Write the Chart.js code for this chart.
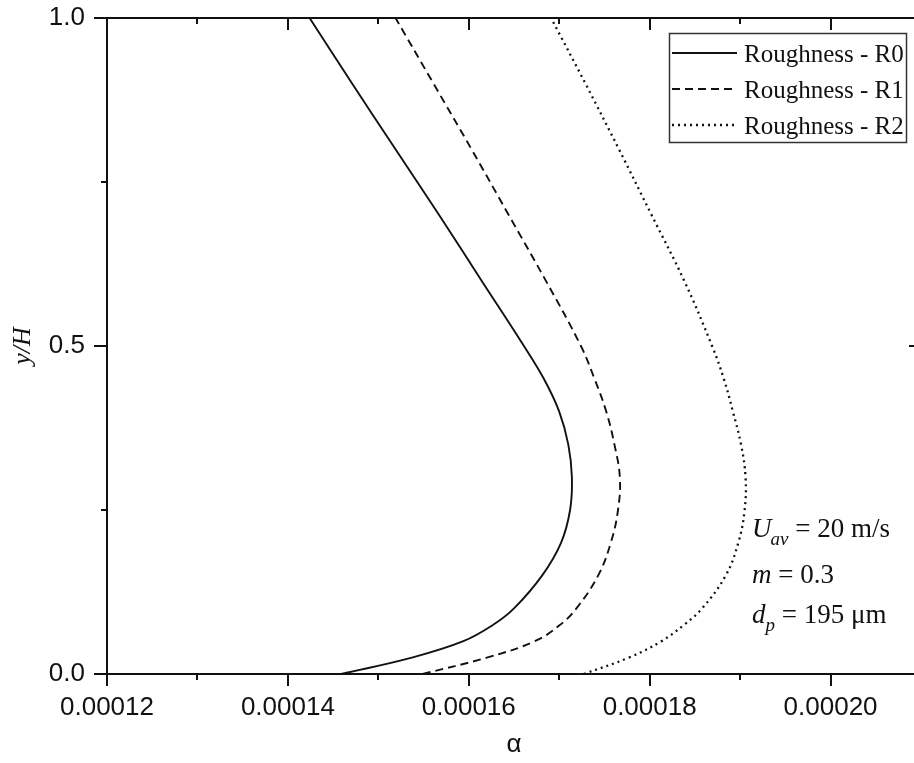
<!DOCTYPE html>
<html>
<head>
<meta charset="utf-8">
<script src="https://cdn.jsdelivr.net/npm/chart.js@4/dist/chart.umd.min.js"></script>
<style>
  html, body { margin: 0; padding: 0; background: #fff; overflow: hidden; }
  #wrap { width: 930px; height: 763px; }
</style>
</head>
<body>
<div id="wrap"><canvas id="myChart" width="930" height="763"></canvas></div>
<script>
const yLevels = [0, 0.025, 0.05, 0.075, 0.1, 0.15, 0.2, 0.25, 0.3, 0.35, 0.4, 0.45, 0.5, 0.6, 0.7, 0.8, 0.9, 1.0];

// alpha values for each roughness
const alphaR0 = [0.0001459, 0.0001537, 0.0001594, 0.0001627, 0.000165, 0.0001681, 0.0001702, 0.0001712, 0.0001714, 0.000171,
                 0.00017, 0.0001683, 0.0001661, 0.0001614, 0.0001567, 0.0001519, 0.0001471, 0.0001424];
const alphaR1 = [0.0001549, 0.000162, 0.0001673, 0.0001701, 0.0001719, 0.0001743, 0.0001757, 0.0001765, 0.0001767, 0.0001761,
                 0.0001752, 0.0001739, 0.0001724, 0.0001685, 0.0001644, 0.0001603, 0.0001561, 0.0001519];
const alphaR2 = [0.0001727, 0.0001777, 0.0001813, 0.0001838, 0.0001858, 0.0001884, 0.0001898, 0.0001905, 0.0001906, 0.0001901,
                 0.0001892, 0.0001882, 0.0001869, 0.0001838, 0.0001802, 0.0001766, 0.0001729, 0.0001691];

const seriesNames = ['Roughness - R0', 'Roughness - R1', 'Roughness - R2'];

// tick values
const xTicks = [0.00012, 0.00014, 0.00016, 0.00018, 0.00020];
const xMinorTicks = [0.00013, 0.00015, 0.00017, 0.00019];
const yTicks = [0.0, 0.5, 1.0];
const yMinorTicks = [0.25, 0.75];

function toPoints(alphas) {
    return yLevels.map((y, i) => ({ x: alphas[i], y: y }));
}

// Bordas, marcas de escala, legenda e anotações
const framePlugin = {
    id: 'frame',
    afterDraw(chart) {
        const ctx = chart.ctx;
        const a = chart.chartArea;
        const xs = chart.scales.x;
        const ys = chart.scales.y;
        ctx.save();
        ctx.strokeStyle = '#111';
        ctx.lineWidth = 2;
        ctx.setLineDash([]);

        // box
        ctx.strokeRect(a.left, a.top, a.right - a.left, a.bottom - a.top);

        ctx.beginPath();
        xTicks.forEach(v => {
            const px = Math.round(xs.getPixelForValue(v));
            ctx.moveTo(px, a.bottom); ctx.lineTo(px, a.bottom + 12);
            ctx.moveTo(px, a.top); ctx.lineTo(px, a.top + 12);
        });
        xMinorTicks.forEach(v => {
            const px = Math.round(xs.getPixelForValue(v));
            ctx.moveTo(px, a.bottom); ctx.lineTo(px, a.bottom + 6);
            ctx.moveTo(px, a.top); ctx.lineTo(px, a.top + 6);
        });
        yTicks.forEach(v => {
            const py = Math.round(ys.getPixelForValue(v));
            ctx.moveTo(a.left, py); ctx.lineTo(a.left - 13, py);
            ctx.moveTo(a.right, py); ctx.lineTo(a.right - 12, py);
        });
        yMinorTicks.forEach(v => {
            const py = Math.round(ys.getPixelForValue(v));
            ctx.moveTo(a.left, py); ctx.lineTo(a.left - 6, py);
            ctx.moveTo(a.right, py); ctx.lineTo(a.right - 6, py);
        });
        ctx.stroke();

        // legend
        ctx.lineWidth = 1.5;
        ctx.strokeStyle = '#333';
        ctx.strokeRect(669.5, 33.5, 237, 109);
        ctx.font = '25px "Liberation Serif", "Times New Roman", serif';
        ctx.fillStyle = '#111';
        ctx.textBaseline = 'alphabetic';
        chart.data.datasets.forEach((ds, i) => {
            const y = 53 + 36 * i;
            ctx.strokeStyle = ds.borderColor;
            ctx.lineWidth = ds.borderWidth;
            ctx.setLineDash(ds.borderDash || []);
            ctx.beginPath();
            ctx.moveTo(672, y); ctx.lineTo(737, y);
            ctx.stroke();
            ctx.fillText(ds.label, 744, 62 + 36 * i);
        });
        ctx.setLineDash([]);

        // parameters
        const it = 'italic 27px "Liberation Serif", "Times New Roman", serif';
        const rg = '27px "Liberation Serif", "Times New Roman", serif';
        const sub = 'italic 19px "Liberation Serif", "Times New Roman", serif';
        let x = 752;
        ctx.font = it; ctx.fillText('U', x, 537); x += ctx.measureText('U').width;
        ctx.font = sub; ctx.fillText('av', x - 1, 545); x += ctx.measureText('av').width - 1;
        ctx.font = rg; ctx.fillText(' = 20 m/s', x, 537);

        x = 752;
        ctx.font = it; ctx.fillText('m', x, 583); x += ctx.measureText('m').width;
        ctx.font = rg; ctx.fillText(' = 0.3', x, 583);

        x = 752;
        ctx.font = it; ctx.fillText('d', x, 623); x += ctx.measureText('d').width;
        ctx.font = sub; ctx.fillText('p', x, 631); x += ctx.measureText('p').width;
        ctx.font = rg; ctx.fillText(' = 195 \u03bcm', x, 623);
        ctx.restore();
    }
};

const tickFont = { family: '"Liberation Sans", Arial, sans-serif', size: 26 };

var ctx = document.getElementById('myChart').getContext('2d');
var chart = new Chart(ctx, {
    type: 'line',
    data: {
        datasets: [
            { label: seriesNames[0], data: toPoints(alphaR0), borderDash: [], borderWidth: 1.9 },
            { label: seriesNames[1], data: toPoints(alphaR1), borderDash: [8, 5], borderWidth: 1.9 },
            { label: seriesNames[2], data: toPoints(alphaR2), borderDash: [2, 4], borderWidth: 2.3 }
        ].map(ds => Object.assign(ds, {
            borderColor: '#111',
            pointRadius: 0,
            tension: 0.4,
            fill: false
        }))
    },
    options: {
        indexAxis: 'y',
        responsive: false,
        animation: false,
        devicePixelRatio: 1,
        layout: { padding: { top: 0, right: 9, left: 0, bottom: 0 } },
        plugins: {
            legend: { display: false },
            tooltip: { enabled: false }
        },
        scales: {
            x: {
                type: 'linear',
                position: 'bottom',
                min: 0.00012,
                max: 0.00021,
                grid: { display: false, drawTicks: false },
                border: { display: false },
                afterBuildTicks: s => { s.ticks = xTicks.map(v => ({ value: v })); },
                afterFit: s => { s.height = 89; },
                ticks: {
                    autoSkip: false,
                    maxRotation: 0,
                    padding: 18,
                    color: '#111',
                    font: tickFont,
                    callback: v => v.toFixed(5)
                },
                title: {
                    display: true,
                    text: '\u03b1',
                    color: '#111',
                    font: { family: '"Liberation Sans", Arial, sans-serif', size: 26 },
                    padding: { top: 0, bottom: 3 }
                }
            },
            y: {
                type: 'linear',
                position: 'left',
                min: 0,
                max: 1,
                grid: { display: false, drawTicks: false },
                border: { display: false },
                afterBuildTicks: s => { s.ticks = yTicks.map(v => ({ value: v })); },
                afterFit: s => { s.width = 107; s.paddingTop = 18; },
                ticks: {
                    padding: 22,
                    color: '#111',
                    font: tickFont,
                    callback: v => v.toFixed(1)
                },
                title: {
                    display: true,
                    text: 'y/H',
                    color: '#111',
                    font: { family: '"Liberation Serif", "Times New Roman", serif', size: 26, style: 'italic' },
                    padding: { top: 8, bottom: 0 }
                }
            }
        }
    },
    plugins: [framePlugin]
});
</script>
</body>
</html>
